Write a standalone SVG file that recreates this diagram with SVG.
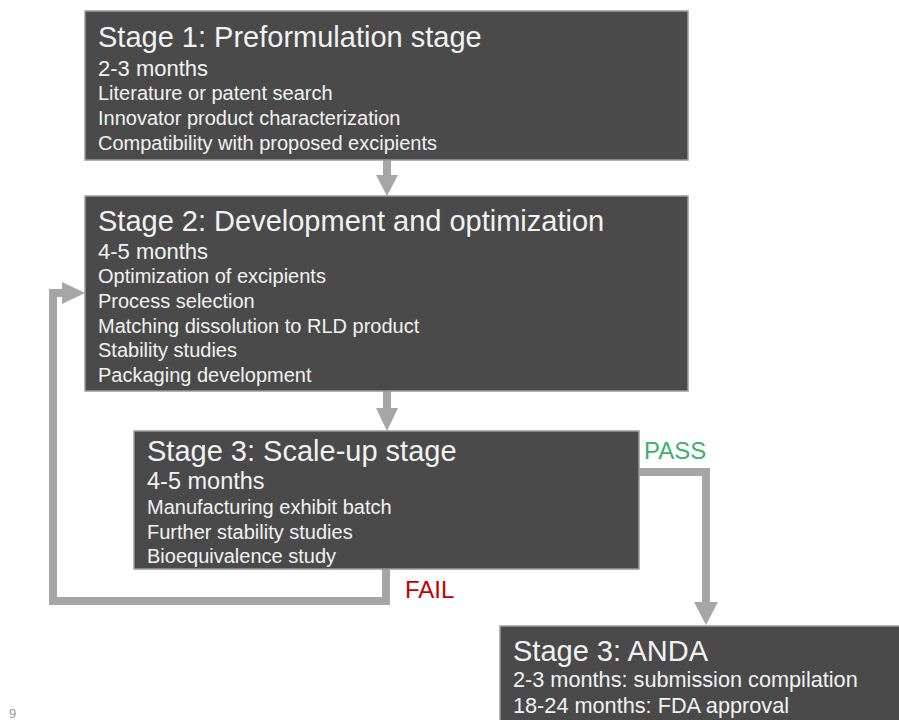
<svg xmlns="http://www.w3.org/2000/svg" width="899" height="720" viewBox="0 0 899 720">
<style>
.box{fill:#4a4a4a;stroke:#9a9a9a;stroke-width:1.5}
.t{font-family:"Liberation Sans",Arial,sans-serif;fill:#f2f2f2}
.h{font-size:29px}
.m{font-size:22px}
.m4{font-size:21.7px}
.m3{font-size:23.5px}
.i{font-size:20px}
.c{fill:none;stroke:#a6a6a6;stroke-width:8}
.ah{fill:#a6a6a6}
.lbl{font-family:"Liberation Sans",Arial,sans-serif;font-size:24px}
</style>
<rect width="899" height="720" fill="#ffffff"/>
<g id="connectors">
  <line class="c" x1="387" y1="160" x2="387" y2="177"/>
  <polygon class="ah" points="376,175 398,175 387,196"/>
  <line class="c" x1="387" y1="391" x2="387" y2="410"/>
  <polygon class="ah" points="376,408 398,408 387,431"/>
  <polyline class="c" points="386,569 386,601 53,601 53,293 64,293"/>
  <polygon class="ah" points="62,282 62,304 85,293"/>
  <polyline class="c" points="639,472 706,472 706,604"/>
  <polygon class="ah" points="694,602 718,602 706,625"/>
  <text class="lbl" x="405" y="598" fill="#c00000">FAIL</text>
  <text class="lbl" x="644" y="459" fill="#3fae6a">PASS</text>
</g>
<g id="stage1">
  <rect class="box" x="85" y="11" width="603" height="149"/>
  <text class="t h" x="98" y="47">Stage 1: Preformulation stage</text>
  <text class="t m" x="98" y="76">2-3 months</text>
  <text class="t i" x="98" y="100">Literature or patent search</text>
  <text class="t i" x="98" y="125">Innovator product characterization</text>
  <text class="t i" x="98" y="150">Compatibility with proposed excipients</text>
</g>
<g id="stage2">
  <rect class="box" x="85" y="196" width="603" height="195"/>
  <text class="t h" x="98" y="231">Stage 2: Development and optimization</text>
  <text class="t m" x="98" y="259">4-5 months</text>
  <text class="t i" x="98" y="283">Optimization of excipients</text>
  <text class="t i" x="98" y="308">Process selection</text>
  <text class="t i" x="98" y="333">Matching dissolution to RLD product</text>
  <text class="t i" x="98" y="357">Stability studies</text>
  <text class="t i" x="98" y="382">Packaging development</text>
</g>
<g id="stage3">
  <rect class="box" x="134" y="431" width="505" height="138"/>
  <text class="t h" x="147" y="461">Stage 3: Scale-up stage</text>
  <text class="t m3" x="147" y="489">4-5 months</text>
  <text class="t i" x="147" y="514">Manufacturing exhibit batch</text>
  <text class="t i" x="147" y="539">Further stability studies</text>
  <text class="t i" x="147" y="563">Bioequivalence study</text>
</g>
<g id="anda">
  <rect class="box" x="500" y="626" width="410" height="110"/>
  <text class="t h" x="513" y="661">Stage 3: ANDA</text>
  <text class="t m4" x="513" y="687">2-3 months: submission compilation</text>
  <text class="t m4" x="513" y="713">18-24 months: FDA approval</text>
</g>
<text x="9" y="718" font-family="Liberation Sans, Arial, sans-serif" font-size="13" fill="#9a9a9a">9</text>
</svg>
